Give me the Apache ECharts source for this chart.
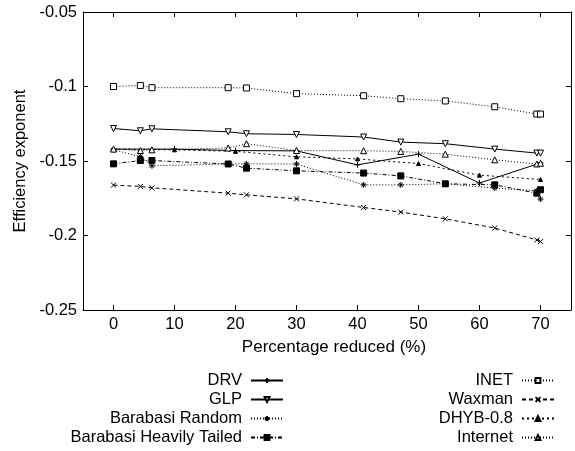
<!DOCTYPE html>
<html><head><meta charset="utf-8">
<script src="https://cdn.jsdelivr.net/npm/echarts@6/dist/echarts.min.js"></script>
<style>html,body{margin:0;padding:0;background:#fff}#c{width:575px;height:451px}</style>
</head><body><div id="c"></div>
<script>
// ---- data ----
const xTicks = [0, 10, 20, 30, 40, 50, 60, 70];
const yMin = -0.25, yMax = -0.05, yStep = 0.05;
const xA = [0, 4.4, 6.3, 18.8, 21.8, 30, 41, 47.1, 54.4, 62.5, 69.4, 70];
const xB = [0, 10, 20, 30, 40, 50, 60, 70];
const drv      = [-0.142, -0.142, -0.143, -0.1432, -0.1526, -0.1454, -0.1648, -0.1513];
const dhyb     = [-0.142, -0.1425, -0.1435, -0.1472, -0.1486, -0.1517, -0.1595, -0.1624];
const glp      = [-0.1282, -0.1297, -0.1284, -0.1304, -0.1317, -0.1322, -0.1339, -0.1373, -0.1384, -0.142, -0.1447, -0.1447];
const inet     = [-0.1, -0.0993, -0.1008, -0.1008, -0.101, -0.1048, -0.1062, -0.1082, -0.1097, -0.1136, -0.1185, -0.1185];
const bRandom  = [-0.1426, -0.147, -0.1532, -0.152, -0.1519, -0.152, -0.166, -0.166, -0.1653, -0.1682, -0.170, -0.1756];
const bHeavy   = [-0.1519, -0.1497, -0.1497, -0.152, -0.1548, -0.1566, -0.1581, -0.16, -0.1653, -0.166, -0.1716, -0.1693];
const waxman   = [-0.1662, -0.1671, -0.168, -0.1716, -0.1727, -0.1754, -0.1812, -0.1843, -0.1888, -0.195, -0.203, -0.2041];
const internet = [-0.142, -0.143, -0.1425, -0.1413, -0.1384, -0.143, -0.1431, -0.1436, -0.1454, -0.1492, -0.152, -0.1515];

const FONT = 'Liberation Sans, Arial, Helvetica, sans-serif';
const FS = 16.5;
const PLUS = 'path://M5,0L5,10M0,5L10,5';
const CROSS = 'path://M0,0L10,10M10,0L0,10';
const STAR = 'path://M5,0L5,10M0,5L10,5M1.5,1.5L8.5,8.5M8.5,1.5L1.5,8.5';

function pairs(xs, ys) { return xs.map((x, i) => [x, ys[i]]); }
function ser(name, xs, ys, sym, size, hollow, type, rot) {
  return {
    name, type: 'line', data: pairs(xs, ys), symbol: sym, symbolSize: size,
    symbolRotate: rot || 0, showAllSymbol: true, silent: true,
    lineStyle: { color: '#000', width: 1, type: type },
    itemStyle: hollow ? { color: '#fff', borderColor: '#000', borderWidth: 1 }
                      : { color: '#000', borderColor: '#000', borderWidth: 1 },
    emphasis: { disabled: true }
  };
}

const series = [
  ser('DRV', xB, drv, PLUS, 6, false, 'solid'),
  ser('GLP', xA, glp, 'triangle', 6, true, 'solid', 180),
  ser('Barabasi Random', xA, bRandom, STAR, 6, false, [1, 2]),
  ser('Barabasi Heavily Tailed', xA, bHeavy, 'rect', 6, false, [4, 2, 1, 2]),
  ser('INET', xA, inet, 'rect', 6, true, [1, 2]),
  ser('Waxman', xA, waxman, CROSS, 5, false, [4, 3]),
  ser('DHYB-0.8', xB, dhyb, 'triangle', 4, false, [2, 3]),
  ser('Internet', xA, internet, 'triangle', 6, true, [1, 2])
];

const tickStyle = { show: true, inside: true, length: 5, lineStyle: { color: '#000', width: 1 } };
const lineStyle = { show: true, onZero: false, lineStyle: { color: '#000', width: 1 } };
const legendBase = {
  orient: 'vertical', align: 'right', itemWidth: 32, itemHeight: 6, itemGap: 0,
  selectedMode: false, top: 371, padding: 0, height: 80,
  textStyle: { fontSize: FS, fontFamily: FONT, color: '#000', lineHeight: 19, padding: [0, 4, 0, 0] }
};

const chart = echarts.init(document.getElementById('c'), null, { renderer: 'canvas' });
chart.setOption({
  animation: false,
  backgroundColor: '#fff',
  grid: { left: 83, right: 4, top: 12, bottom: 141, containLabel: false, outerBoundsMode: 'none' },
  xAxis: [
    { type: 'value', position: 'bottom', min: -5, max: 75,
      name: 'Percentage reduced (%)', nameLocation: 'middle', nameGap: 29,
      nameTextStyle: { fontSize: 17, fontFamily: FONT, color: '#000', padding: [0, 0, 0, 14] },
      axisLine: lineStyle, axisTick: Object.assign({ customValues: xTicks }, tickStyle),
      axisLabel: { customValues: xTicks, fontSize: FS, fontFamily: FONT, color: '#000', margin: 6 },
      splitLine: { show: false } },
    { type: 'value', position: 'top', min: -5, max: 75,
      axisLine: lineStyle, axisTick: Object.assign({ customValues: xTicks }, tickStyle),
      axisLabel: { show: false }, splitLine: { show: false } }
  ],
  yAxis: [
    { type: 'value', position: 'left', min: yMin, max: yMax, interval: yStep,
      name: 'Efficiency exponent', nameLocation: 'middle', nameGap: 50, nameRotate: 90,
      nameTextStyle: { fontSize: FS, fontFamily: FONT, color: '#000' },
      axisLine: lineStyle, axisTick: tickStyle,
      axisLabel: { fontSize: FS, fontFamily: FONT, color: '#000', margin: 6,
        formatter: v => String(+v.toFixed(2)) },
      splitLine: { show: false } },
    { type: 'value', position: 'right', min: yMin, max: yMax, interval: yStep,
      axisLine: lineStyle, axisTick: tickStyle,
      axisLabel: { show: false }, splitLine: { show: false } }
  ],
  legend: [
    Object.assign({ right: 291, data: ['DRV', 'GLP', 'Barabasi Random', 'Barabasi Heavily Tailed'] }, legendBase),
    Object.assign({ right: 20, data: ['INET', 'Waxman', 'DHYB-0.8', 'Internet'] }, legendBase)
  ],
  series
});
</script></body></html>
